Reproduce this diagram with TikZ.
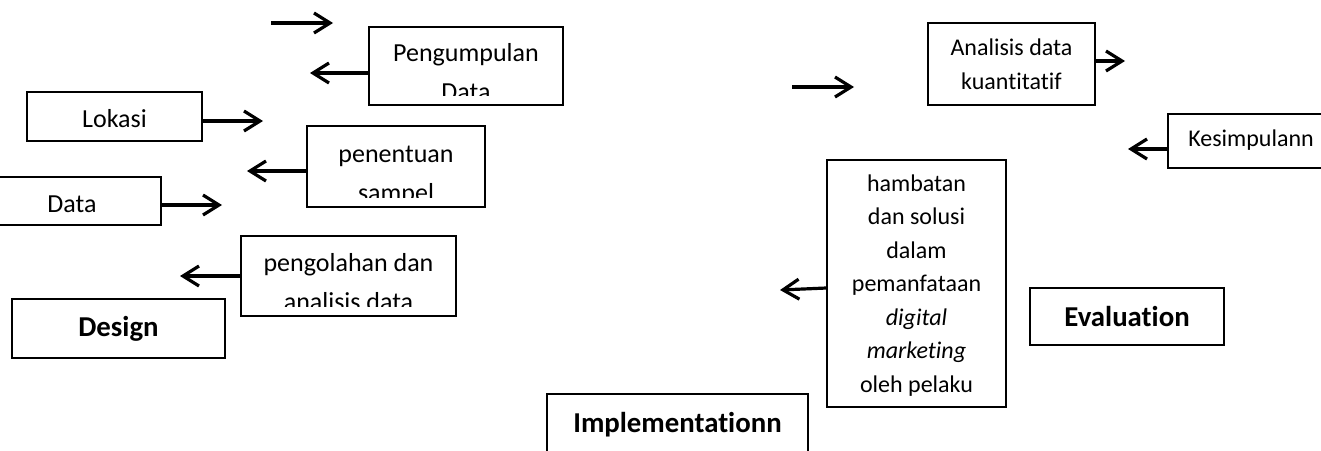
\documentclass[tikz,border=0pt]{standalone}
\usepackage{fontspec}
\setmainfont{Carlito}[Ligatures=NoCommon]
\usetikzlibrary{arrows.meta}

\begin{document}
\begin{tikzpicture}[
    x=0.5pt, y=-0.5pt,
    box/.style={rectangle, draw=black, line width=0.6pt, inner sep=0pt},
    big/.style={anchor=base, inner sep=0pt, align=center, font=\fontsize{13}{19.5}\selectfont},
    small/.style={anchor=base, inner sep=0pt, align=center, font=\fontsize{12}{16.75}\selectfont},
    phase/.style={anchor=base, inner sep=0pt, align=center, font=\fontsize{14.4}{18}\selectfont\bfseries},
    arrow/.style={-{Straight Barb[length=8pt, width=10pt]}, line width=1.6pt}
]
\useasboundingbox (0,0) rectangle (1321,450);

% Design side
\node[box, minimum width=97pt, minimum height=39pt] (pengumpulan) at (466,66) {};
\node[box, minimum width=87.5pt, minimum height=24.5pt] (lokasi) at (114.5,116.5) {};
\node[box, minimum width=89pt, minimum height=40.5pt] (sampel) at (396,166.5) {};
\node[box, minimum width=89pt, minimum height=24pt] (data) at (72,201) {};
\node[box, minimum width=107.5pt, minimum height=40pt] (pengolahan) at (348.5,276) {};
\node[box, minimum width=106.5pt, minimum height=29.5pt] (design) at (118.5,328.5) {};

% Implementation and evaluation side
\node[box, minimum width=83.5pt, minimum height=41pt] (analisis) at (1011.5,64) {};
\node[box, minimum width=83pt, minimum height=27pt] (kesimpulan) at (1251,141) {};
\node[box, minimum width=89.5pt, minimum height=123.5pt] (hambatan) at (916.5,283.5) {};
\node[box, minimum width=97pt, minimum height=28.5pt] (evaluation) at (1127,316.5) {};
\node[box, minimum width=130.5pt, minimum height=30pt] (implementation) at (677.5,424) {};

% Texts (cut off at the bottom of their boxes)
\begin{scope}
\clip (pengumpulan.north west) rectangle ([yshift=5pt]pengumpulan.south east);
\node[big] (pengumpulanText) at ([yshift=-37.25pt]pengumpulan.north) {Pengumpulan\\Data};
\end{scope}
\begin{scope}
\clip (sampel.north west) rectangle ([yshift=5pt]sampel.south east);
\node[big] (sampelText) at ([yshift=-37.85pt]sampel.north) {penentuan\\sampel};
\end{scope}
\begin{scope}
\clip (pengolahan.north west) rectangle ([yshift=5pt]pengolahan.south east);
\node[big] (pengolahanText) at ([yshift=-37.35pt]pengolahan.north) {pengolahan dan\\analisis data};
\end{scope}
\begin{scope}
\clip (hambatan.north west) rectangle ([yshift=5pt]hambatan.south east);
\node[small] (hambatanText) at ([yshift=-116.5pt]hambatan.north) {hambatan\\dan solusi\\dalam\\pemanfataan\\\textit{digital}\\\textit{marketing}\\oleh pelaku};
\end{scope}
\node[big] (lokasiText) at ([yshift=-18pt]lokasi.north) {Lokasi};
\node[big] (dataText) at ([yshift=-18.2pt]data.north) {Data};
\node[small] (analisisText) at ([yshift=-33.5pt]analisis.north) {Analisis data\\kuantitatif};
\node[small] (kesimpulanText) at ([yshift=-16.6pt]kesimpulan.north) {Kesimpulann};
\node[phase] (designText) at ([yshift=-18.85pt]design.north) {Design};
\node[phase] (evaluationText) at ([yshift=-19.35pt]evaluation.north) {Evaluation};
\node[phase] (implementationText) at ([yshift=-19.65pt]implementation.north) {Implementationn};

% Arrow ends
\coordinate (topStart) at (271,23);
\coordinate (topEnd) at (333,23);
\coordinate (pengumpulanTip) at (310,73);
\coordinate (lokasiTip) at (263,121);
\coordinate (sampelTip) at (247,171);
\coordinate (dataTip) at (222,205);
\coordinate (pengolahanTip) at (180,276);
\coordinate (midStart) at (792,87);
\coordinate (midEnd) at (854,87);
\coordinate (analisisTip) at (1125,61);
\coordinate (kesimpulanTip) at (1128,149);
\coordinate (hambatanTip) at (780,290);

% Arrows
\draw[arrow] (topStart) -- (topEnd);
\draw[arrow] (pengumpulan.west |- pengumpulanTip) -- (pengumpulanTip);
\draw[arrow] (lokasi.east |- lokasiTip) -- (lokasiTip);
\draw[arrow] (sampel.west |- sampelTip) -- (sampelTip);
\draw[arrow] (data.east |- dataTip) -- (dataTip);
\draw[arrow] (pengolahan.west |- pengolahanTip) -- (pengolahanTip);
\draw[arrow] (midStart) -- (midEnd);
\draw[arrow] (analisis.east |- analisisTip) -- (analisisTip);
\draw[arrow] (kesimpulan.west |- kesimpulanTip) -- (kesimpulanTip);
\draw[arrow] ([yshift=-2.25pt]hambatan.west) -- (hambatanTip);

\end{tikzpicture}
\end{document}
